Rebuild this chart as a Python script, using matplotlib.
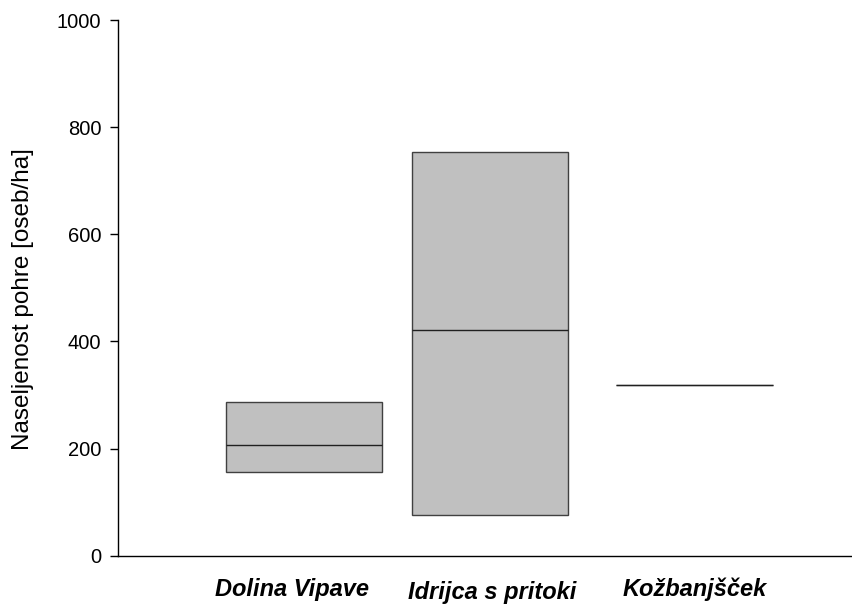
#!/usr/bin/env python3
"""Box chart: population density of Idrijca softmouth trout per site."""
import matplotlib
matplotlib.use('Agg')
import matplotlib.pyplot as plt

plt.rcParams.update({
    'font.family': ['Liberation Sans', 'DejaVu Sans'],
    'font.size': 14,
    'axes.linewidth': 1.0,
})

# data
sites = ['Dolina Vipave', 'Idrijca s pritoki', 'Kožbanjšček']
q1 = [156, 76, 319]
median = [206, 421, 319]
q3 = [286, 754, 319]

# layout
positions = [1.0, 2.0, 3.1]
label_dx = [-0.066, 0.01, 0.0]      # small horizontal shifts of the labels
label_dy = [0, -3, 0]               # Idrijca label sits a bit lower
box_width = 0.84


def main():
    fig = plt.figure(figsize=(8.52, 6.05), dpi=100)
    ax = fig.add_axes([118 / 852, 49.3 / 605, 1 - 118 / 852, 535.7 / 605])

    stats = []
    for name, lo, med, hi in zip(sites, q1, median, q3):
        stats.append(dict(label=name, q1=lo, med=med, q3=hi,
                          whislo=lo, whishi=hi, fliers=[]))

    bp = ax.bxp(stats, positions=positions, widths=box_width,
                patch_artist=True, showcaps=False, showfliers=False)
    for i, box in enumerate(bp['boxes']):
        box.set_facecolor('#c0c0c0')
        box.set_edgecolor('#404040')
        box.set_linewidth(1.0)
        if q1[i] == q3[i]:
            box.set_edgecolor('#707070')
    for m in bp['medians']:
        m.set_color('#202020')
        m.set_linewidth(1.0)
    for w in bp['whiskers']:
        w.set_visible(False)

    ax.set_ylim(0, 1000)
    ax.set_xlim(0, (852 - 118) / 186)
    ax.set_yticks([0, 200, 400, 600, 800, 1000])
    ax.tick_params(axis='y', direction='out', length=6, width=1, pad=6,
                   labelsize=14.5)
    ax.set_xticks([])

    for x, name, dx, dy in zip(positions, sites, label_dx, label_dy):
        ax.annotate(name, xy=(x + dx, 0), xycoords=('data', 'axes fraction'),
                    xytext=(0, -22 + dy), textcoords='offset pixels',
                    ha='center', va='top', fontsize=17,
                    fontweight='bold', fontstyle='italic')

    ax.spines['top'].set_visible(False)
    ax.spines['right'].set_visible(False)
    ax.set_ylabel('Naseljenost pohre [oseb/ha]', fontsize=17.5)
    ax.yaxis.set_label_coords(-0.115, 0.48)

    fig.savefig('out.png', dpi=100, facecolor='white')
    plt.close(fig)


if __name__ == '__main__':
    main()
